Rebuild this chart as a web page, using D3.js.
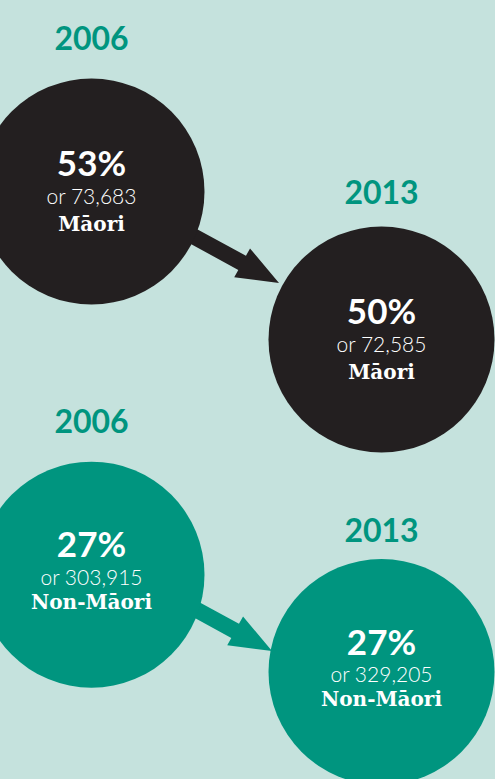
<!DOCTYPE html>
<html>
<head>
<meta charset="utf-8">
<script src="https://cdn.jsdelivr.net/npm/d3@7/dist/d3.min.js"></script>
<style>
  html, body { margin: 0; padding: 0; background: #c5e2dd; }
  svg { display: block; }
</style>
</head>
<body>
<svg id="chart" width="495" height="779"></svg>
<script>
// ---- data ----
const years = [2006, 2013];
const groups = ["Māori", "Non-Māori"];
const percents = [[53, 50], [27, 27]];
const counts = [[73683, 72585], [303915, 329205]];
const groupColors = ["#231f20", "#00957f"];

// ---- layout ----
const W = 495, H = 779;
const R = 113;
const x = d3.scaleLinear().domain([2006, 2013]).range([91.5, 381.5]);
const centerY = [[191.5, 339.5], [574.7, 672]];
const yearOffset = [[141.5, 135.5], [141.5, 130.5]];
const textOffsets = [[-15.5, 12, 39], [-17.5, 10, 34]];
const arrowTail = [[180, 229], [185, 603.5]];
const arrowTip = [[279, 283], [272, 651]];

const svg = d3.select("#chart");
svg.append("rect").attr("width", W).attr("height", H).attr("fill", "#c5e2dd");

const fmt = d3.format(",");

groups.forEach((g, gi) => {
  const col = groupColors[gi];
  const layer = svg.append("g");

  // arrow
  const [tx, ty] = arrowTail[gi];
  const [px, py] = arrowTip[gi];
  const dx = px - tx, dy = py - ty;
  const L = Math.hypot(dx, dy);
  const ux = dx / L, uy = dy / L;
  const nx = -uy, ny = ux;
  const headLen = 42, shaftHalf = 8, headHalf = 16.5;
  const bx = px - ux * headLen, by = py - uy * headLen;
  const pts = [
    [tx + nx * shaftHalf, ty + ny * shaftHalf],
    [bx + nx * shaftHalf, by + ny * shaftHalf],
    [bx + nx * headHalf, by + ny * headHalf],
    [px, py],
    [bx - nx * headHalf, by - ny * headHalf],
    [bx - nx * shaftHalf, by - ny * shaftHalf],
    [tx - nx * shaftHalf, ty - ny * shaftHalf]
  ];
  layer.append("path")
    .attr("d", d3.line()(pts) + "Z")
    .attr("fill", col);

  years.forEach((yr, yi) => {
    const cx = x(yr), cy = centerY[gi][yi];

    layer.append("text")
      .attr("x", cx).attr("y", cy - yearOffset[gi][yi])
      .attr("text-anchor", "middle")
      .attr("font-family", "Lato, 'Open Sans', sans-serif")
      .attr("font-weight", 700)
      .attr("font-size", 32)
      .attr("fill", "#00957f")
      .text(yr);

    layer.append("circle")
      .attr("cx", cx).attr("cy", cy).attr("r", R)
      .attr("fill", col);

    const off = textOffsets[gi];
    layer.append("text")
      .attr("x", cx).attr("y", cy + off[0])
      .attr("text-anchor", "middle")
      .attr("font-family", "Lato, 'Open Sans', sans-serif")
      .attr("font-weight", 700)
      .attr("font-size", 35)
      .attr("fill", "#ffffff")
      .text(percents[gi][yi] + "%");

    layer.append("text")
      .attr("x", cx).attr("y", cy + off[1])
      .attr("text-anchor", "middle")
      .attr("font-family", "Lato, 'Open Sans', sans-serif")
      .attr("font-weight", 300)
      .attr("font-size", 21)
      .attr("fill", "#ffffff")
      .text("or " + fmt(counts[gi][yi]));

    layer.append("text")
      .attr("x", cx).attr("y", cy + off[2])
      .attr("text-anchor", "middle")
      .attr("font-family", "'DejaVu Serif', serif")
      .attr("font-weight", 700)
      .attr("font-size", 20)
      .attr("fill", "#ffffff")
      .text(g);
  });
});
</script>
</body>
</html>
